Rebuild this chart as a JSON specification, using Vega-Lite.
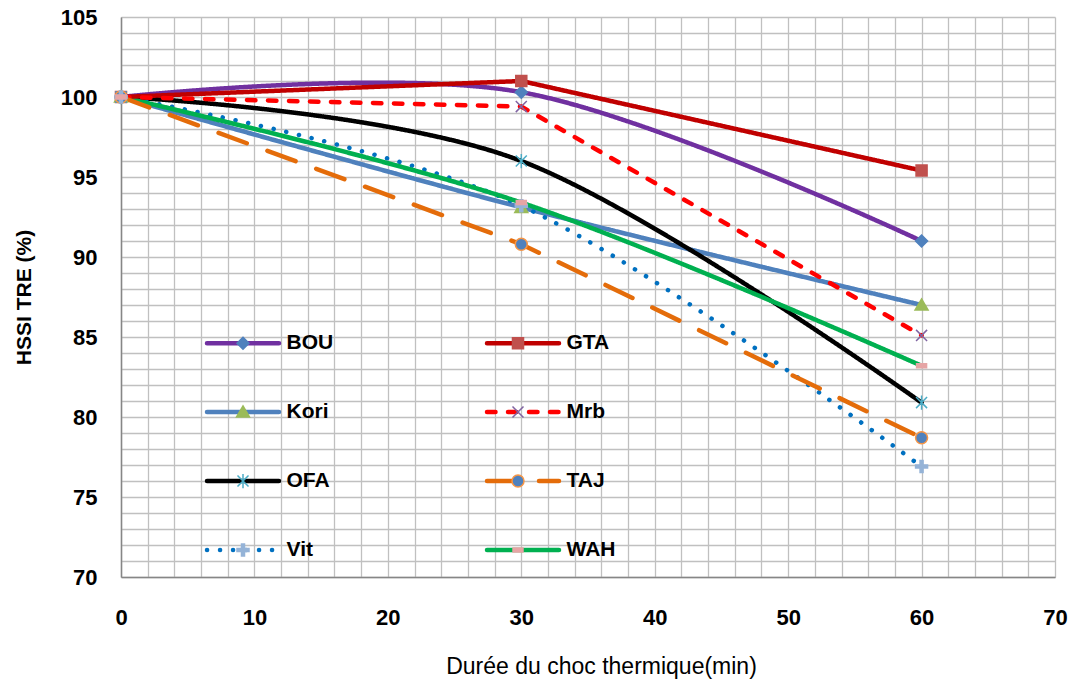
{
  "$schema": "https://vega.github.io/schema/vega-lite/v6.json",
  "width": 934,
  "height": 560,
  "autosize": "none",
  "padding": {"left": 121, "top": 17, "right": 24, "bottom": 111},
  "background": "white",
  "config": {
    "view": {"stroke": null},
    "font": "Liberation Sans",
    "legend": {
      "labelFont": "Liberation Sans",
      "labelFontSize": 21,
      "labelFontWeight": "bold",
      "labelColor": "#000000",
      "labelOffset": 5,
      "padding": 0,
      "gridAlign": "each",
      "rowPadding": 20,
      "direction": "horizontal"
    }
  },
  "data": {
    "values": [
      {"serie": "BOU", "t": 0, "v": 100}, {"serie": "BOU", "t": 30, "v": 100.3}, {"serie": "BOU", "t": 60, "v": 91},
      {"serie": "GTA", "t": 0, "v": 100}, {"serie": "GTA", "t": 30, "v": 101}, {"serie": "GTA", "t": 60, "v": 95.4},
      {"serie": "Kori", "t": 0, "v": 100}, {"serie": "Kori", "t": 30, "v": 93.1}, {"serie": "Kori", "t": 60, "v": 87},
      {"serie": "Mrb", "t": 0, "v": 100}, {"serie": "Mrb", "t": 30, "v": 99.4}, {"serie": "Mrb", "t": 60, "v": 85.1},
      {"serie": "OFA", "t": 0, "v": 100}, {"serie": "OFA", "t": 30, "v": 96}, {"serie": "OFA", "t": 60, "v": 80.9},
      {"serie": "TAJ", "t": 0, "v": 100}, {"serie": "TAJ", "t": 30, "v": 90.8}, {"serie": "TAJ", "t": 60, "v": 78.7},
      {"serie": "Vit", "t": 0, "v": 100}, {"serie": "Vit", "t": 30, "v": 93.2}, {"serie": "Vit", "t": 60, "v": 76.9},
      {"serie": "WAH", "t": 0, "v": 100}, {"serie": "WAH", "t": 30, "v": 93.4}, {"serie": "WAH", "t": 60, "v": 83.2}
    ]
  },
  "encoding": {
    "x": {
      "field": "t",
      "type": "quantitative",
      "scale": {"domain": [0, 70], "nice": false, "zero": false},
      "axis": {
        "values": [0, 2, 4, 6, 8, 10, 12, 14, 16, 18, 20, 22, 24, 26, 28, 30, 32, 34, 36, 38, 40, 42, 44, 46, 48, 50, 52, 54, 56, 58, 60, 62, 64, 66, 68, 70],
        "labelExpr": "datum.value % 10 === 0 ? datum.label : ''",
        "ticks": false,
        "grid": true,
        "gridColor": "#C0C0C0",
        "gridWidth": 1.3,
        "domainColor": "#868686",
        "domainWidth": 1.5,
        "labelFont": "Liberation Sans",
        "labelFontSize": 22,
        "labelFontWeight": "bold",
        "labelColor": "#000000",
        "labelPadding": 30,
        "labelFlush": false,
        "labelBound": false,
        "labelOverlap": false,
        "title": "Durée du choc thermique(min)",
        "titleFont": "Liberation Sans",
        "titleFontSize": 23,
        "titleFontWeight": "normal",
        "titleColor": "#000000",
        "titleAlign": "center",
        "titleBaseline": "alphabetic",
        "titleX": 480,
        "titleY": 96
      }
    },
    "y": {
      "field": "v",
      "type": "quantitative",
      "scale": {"domain": [70, 105], "nice": false, "zero": false},
      "axis": {
        "values": [70, 71, 72, 73, 74, 75, 76, 77, 78, 79, 80, 81, 82, 83, 84, 85, 86, 87, 88, 89, 90, 91, 92, 93, 94, 95, 96, 97, 98, 99, 100, 101, 102, 103, 104, 105],
        "labelExpr": "datum.value % 5 === 0 ? datum.label : ''",
        "ticks": false,
        "grid": true,
        "gridColor": "#C0C0C0",
        "gridWidth": 1.3,
        "domainColor": "#868686",
        "domainWidth": 1.5,
        "labelFont": "Liberation Sans",
        "labelFontSize": 22,
        "labelFontWeight": "bold",
        "labelColor": "#000000",
        "labelPadding": 24,
        "labelFlush": false,
        "labelBound": false,
        "labelOverlap": false,
        "title": "HSSI TRE (%)",
        "titleFont": "Liberation Sans",
        "titleFontSize": 21,
        "titleFontWeight": "bold",
        "titleColor": "#000000",
        "titleAngle": 270,
        "titleAlign": "center",
        "titleBaseline": "alphabetic",
        "titleX": -91,
        "titleY": 280
      }
    }
  },
  "layer": [
    {
      "transform": [{"filter": {"field": "serie", "oneOf": ["BOU", "Kori", "OFA", "Vit", "WAH"]}}],
      "mark": {"type": "line", "interpolate": "cardinal", "strokeWidth": 4.5, "strokeCap": "round"},
      "encoding": {
        "color": {
          "field": "serie", "type": "nominal",
          "scale": {"domain": ["BOU", "GTA", "Kori", "Mrb", "OFA", "TAJ", "Vit", "WAH"],
                    "range": ["#7030A0", "#C00000", "#4F81BD", "#FF0000", "#000000", "#E46C0A", "#0070C0", "#00B050"]},
          "legend": {"orient": "none", "legendX": 83.5, "legendY": 287.5, "columns": 2, "columnPadding": 144, "title": null,
                     "symbolSize": 5184, "symbolStrokeWidth": 4.5, "zindex": 1,
                     "encode": {"symbols": {"update": {"strokeCap": {"value": "round"}}}}}
        },
        "strokeDash": {
          "field": "serie", "type": "nominal",
          "scale": {"domain": ["BOU", "GTA", "Kori", "Mrb", "OFA", "TAJ", "Vit", "WAH"],
                    "range": [[1, 0], [1, 0], [1, 0], [8.5, 12.5], [1, 0], [30, 22], [0.1, 12.9], [1, 0]]},
          "legend": {"orient": "none", "legendX": 83.5, "legendY": 287.5, "columns": 2, "columnPadding": 144, "title": null,
                     "symbolSize": 5184, "symbolStrokeWidth": 4.5, "zindex": 1,
                     "encode": {"symbols": {"update": {"strokeCap": {"value": "round"}}}}}
        }
      }
    },
    {
      "transform": [{"filter": {"field": "serie", "oneOf": ["GTA", "Mrb", "TAJ"]}}],
      "mark": {"type": "line", "interpolate": "linear", "strokeWidth": 4.5, "strokeCap": "round"},
      "encoding": {
        "color": {"field": "serie", "type": "nominal"},
        "strokeDash": {"field": "serie", "type": "nominal"}
      }
    },
    {
      "mark": {"type": "point", "filled": true, "size": 5625, "strokeWidth": 1.5, "opacity": 1},
      "encoding": {
        "shape": {
          "field": "serie", "type": "nominal",
          "scale": {"range": [
            "M-1,0L-1,0M1,0L1,0M0,-0.16L0.16,0L0,0.16L-0.16,0Z",
            "M-1,0L-1,0M1,0L1,0M-0.147,-0.147H0.147V0.147H-0.147Z",
            "M-1,0L-1,0M1,0L1,0M0,-0.16L0.173,0.133L-0.173,0.133Z",
            "M-1,0L-1,0M1,0L1,0M-0.147,-0.147L0.147,0.147M-0.147,0.147L0.147,-0.147",
            "M-1,0L-1,0M1,0L1,0M-0.147,-0.147L0.147,0.147M-0.147,0.147L0.147,-0.147M0,-0.19V0.19",
            "M-1,0L-1,0M1,0L1,0M-0.16,0A0.16,0.16,0,1,1,0.16,0A0.16,0.16,0,1,1,-0.16,0Z",
            "M-1,0L-1,0M1,0L1,0M-0.04,-0.16H0.04V-0.04H0.16V0.04H0.04V0.16H-0.04V0.04H-0.16V-0.04H-0.04Z",
            "M-1,0L-1,0M1,0L1,0M-0.133,-0.053H0.133V0.053H-0.133Z"
          ]},
          "legend": {"orient": "none", "legendX": 83.5, "legendY": 287.5, "columns": 2, "columnPadding": 191, "title": null,
                     "symbolSize": 5625, "symbolStrokeWidth": 1.5, "labelExpr": "''", "zindex": 2}
        },
        "fill": {
          "field": "serie", "type": "nominal",
          "scale": {"range": ["#4F81BD", "#C0504D", "#9BBB59", "#8064A2", "#4BACC6", "#4F81BD", "#95B3D7", "#E6A5A5"]},
          "legend": {"orient": "none", "legendX": 83.5, "legendY": 287.5, "columns": 2, "columnPadding": 191, "title": null,
                     "symbolSize": 5625, "symbolStrokeWidth": 1.5, "labelExpr": "''", "zindex": 2}
        },
        "stroke": {
          "field": "serie", "type": "nominal",
          "scale": {"range": ["#4F81BD", "#C0504D", "#9BBB59", "#8064A2", "#4BACC6", "#F79646", "#95B3D7", "#E6A5A5"]},
          "legend": {"orient": "none", "legendX": 83.5, "legendY": 287.5, "columns": 2, "columnPadding": 191, "title": null,
                     "symbolSize": 5625, "symbolStrokeWidth": 1.5, "labelExpr": "''", "zindex": 2}
        }
      }
    }
  ]
}
